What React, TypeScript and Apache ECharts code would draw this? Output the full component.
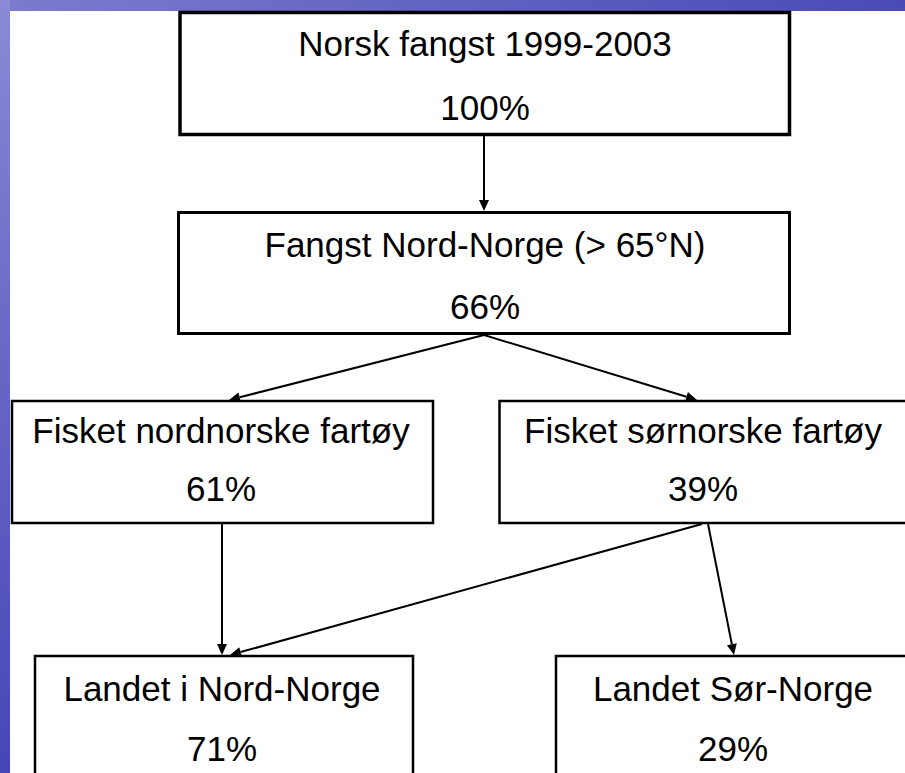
import React, { useEffect, useRef } from "react";
import * as echarts from "echarts";

// ---- data ----
const nodeTitles = [
  "Norsk fangst 1999-2003",
  "Fangst Nord-Norge (> 65°N)",
  "Fisket nordnorske fartøy",
  "Fisket sørnorske fartøy",
  "Landet i Nord-Norge",
  "Landet Sør-Norge",
];
const nodeShares = [100, 66, 61, 39, 71, 29];
const links: [number, number][] = [
  [0, 1],
  [1, 2],
  [1, 3],
  [2, 4],
  [3, 4],
  [3, 5],
];

// ---- layout (positions in pixel space of the 905x773 canvas) ----
const W = 905;
const H = 773;
const boxLayout = [
  { x0: 180, y0: 12.5, x1: 789.5, y1: 134.5, lw: 3.5, cx: 485, t1: 43, t2: 107 },
  { x0: 178.5, y0: 212.5, x1: 789.5, y1: 333.5, lw: 3, cx: 485, t1: 244, t2: 306 },
  { x0: 12, y0: 401, x1: 433, y1: 523, lw: 2.5, cx: 221, t1: 430, t2: 488 },
  { x0: 499.5, y0: 401, x1: 915, y1: 523, lw: 2.5, cx: 703, t1: 430, t2: 488 },
  { x0: 35, y0: 656, x1: 413, y1: 790, lw: 2.5, cx: 222, t1: 688, t2: 748 },
  { x0: 556, y0: 656, x1: 915, y1: 790, lw: 2.5, cx: 733, t1: 688, t2: 748 },
];
// arrow anchors: [startX, startY, endX, endY] per link
const linkLayout = [
  [484, 136, 484, 211],
  [484, 335, 229, 400],
  [484, 335, 697, 400],
  [222, 524, 222, 655],
  [702, 524, 230, 655],
  [708, 524, 734, 655],
];

const FONT = "'Liberation Sans', Arial, Helvetica, sans-serif";

export default function App() {
  const ref = useRef<HTMLDivElement>(null);
  useEffect(() => {
    document.body.style.margin = "0";
    if (!ref.current) return;
    const chart = echarts.init(ref.current, undefined, { renderer: "svg" });
    chart.setOption({
      animation: false,
      backgroundColor: "#ffffff",
      grid: { left: 0, right: 0, top: 0, bottom: 0 },
      xAxis: { type: "value", min: 0, max: W, show: false },
      yAxis: { type: "value", min: 0, max: H, inverse: true, show: false },
      graphic: [
        {
          type: "rect",
          left: 0,
          top: 0,
          shape: { width: W, height: 11 },
          style: {
            fill: new echarts.graphic.LinearGradient(0, 0, 1, 0, [
              { offset: 0, color: "#7c7cce" },
              { offset: 0.5, color: "#6262c2" },
              { offset: 1, color: "#4a4ab6" },
            ]),
          },
          z: -10,
        },
        {
          type: "rect",
          left: 0,
          top: 0,
          shape: { width: 10, height: H },
          style: {
            fill: new echarts.graphic.LinearGradient(0, 0, 0, 1, [
              { offset: 0, color: "#8a8ad6" },
              { offset: 0.4, color: "#6c6cc8" },
              { offset: 1, color: "#4646b6" },
            ]),
          },
          z: -10,
        },
      ],
      series: [
        {
          type: "custom",
          coordinateSystem: "cartesian2d",
          data: nodeShares.map((s, i) => [i, s]),
          z: 2,
          renderItem: (params: any, api: any) => {
            const i = api.value(0);
            const share = api.value(1);
            const b = boxLayout[i];
            const p0 = api.coord([b.x0, b.y0]);
            const p1 = api.coord([b.x1, b.y1]);
            const cx = api.coord([b.cx, 0])[0];
            const y1 = api.coord([0, b.t1])[1];
            const y2 = api.coord([0, b.t2])[1];
            return {
              type: "group",
              children: [
                {
                  type: "rect",
                  shape: { x: p0[0], y: p0[1], width: p1[0] - p0[0], height: p1[1] - p0[1] },
                  style: { fill: "#ffffff", stroke: "#000000", lineWidth: b.lw },
                },
                {
                  type: "text",
                  x: cx,
                  y: y1,
                  style: {
                    text: nodeTitles[i],
                    fill: "#000",
                    font: `35px ${FONT}`,
                    align: "center",
                    verticalAlign: "middle",
                  },
                },
                {
                  type: "text",
                  x: cx,
                  y: y2,
                  style: {
                    text: `${share}%`,
                    fill: "#000",
                    font: `35px ${FONT}`,
                    align: "center",
                    verticalAlign: "middle",
                  },
                },
              ],
            };
          },
        },
        {
          type: "custom",
          coordinateSystem: "cartesian2d",
          data: links.map((l, i) => [i, l[0], l[1]]),
          z: 3,
          renderItem: (params: any, api: any) => {
            const i = api.value(0);
            const a = linkLayout[i];
            const s = api.coord([a[0], a[1]]);
            const e = api.coord([a[2], a[3]]);
            const dx = e[0] - s[0];
            const dy = e[1] - s[1];
            const len = Math.sqrt(dx * dx + dy * dy);
            const ux = dx / len;
            const uy = dy / len;
            const headL = 11;
            const headW = 5;
            const bx = e[0] - ux * headL;
            const by = e[1] - uy * headL;
            return {
              type: "group",
              children: [
                {
                  type: "line",
                  shape: { x1: s[0], y1: s[1], x2: bx, y2: by },
                  style: { stroke: "#000", lineWidth: 2 },
                },
                {
                  type: "polygon",
                  shape: {
                    points: [
                      [e[0], e[1]],
                      [bx - uy * headW, by + ux * headW],
                      [bx + uy * headW, by - ux * headW],
                    ],
                  },
                  style: { fill: "#000" },
                },
              ],
            };
          },
        },
      ],
    });
    return () => chart.dispose();
  }, []);
  return <div ref={ref} style={{ width: W, height: H }} />;
}
